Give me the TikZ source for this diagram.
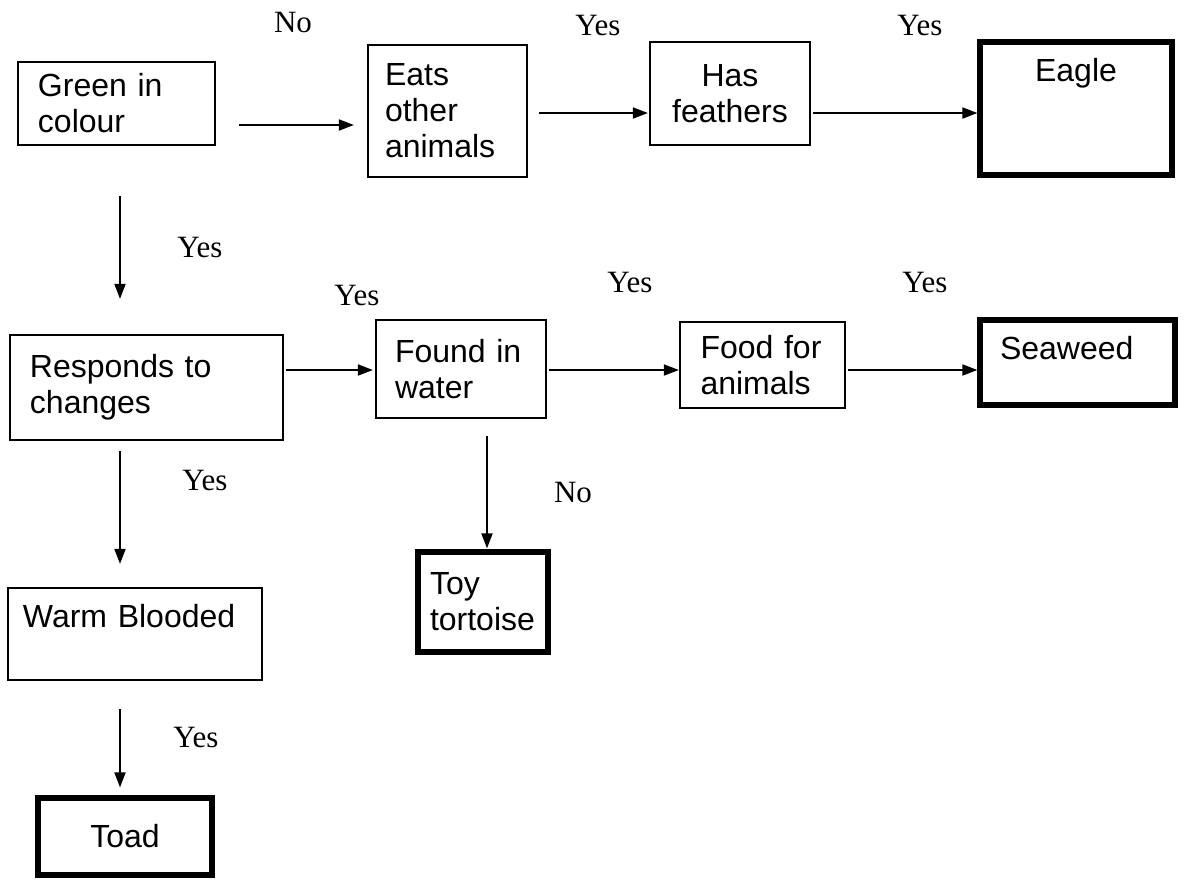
\documentclass[tikz,border=0pt]{standalone}
\usepackage{fontspec}
\setmainfont{Liberation Serif}
\newfontfamily\arialfont{Liberation Sans}
\usetikzlibrary{arrows.meta}

\tikzset{
  box/.style={draw, line width=1.1pt, inner sep=0pt, align=left,
    font=\arialfont\fontsize{16}{18}\selectfont},
  endbox/.style={box, line width=2.6pt},
  arr/.style={line width=0.9pt, -{Triangle[length=7.5pt,width=5.5pt]}},
  lbl/.style={font=\fontsize{15.5}{18}\selectfont}
}

\begin{document}
\begin{tikzpicture}[x=0.5pt, y=-0.5pt]
\useasboundingbox (0,0) rectangle (1191,880);

% Ligne du haut
\node[box, minimum width=98.5pt, minimum height=41.5pt, text width=78.5pt] (green) at (116.5,103.5) {Green in\\colour};
\node[box, minimum width=79.5pt, minimum height=66pt, text width=62.5pt] (eats) at (447.5,111) {Eats\\other\\animals};
\node[box, minimum width=80pt, minimum height=51.5pt, align=center] (feathers) at (730,93.5) {Has\\feathers};
\node[endbox, minimum width=96pt, minimum height=66.5pt, align=center] (eagle) at (1076,108.5) {Eagle\\[-3pt]\strut\\\strut};

% Ligne du milieu
\node[box, minimum width=136.5pt, minimum height=52.5pt, text width=116.5pt] (responds) at (146.5,387.5) {Responds to\\changes};
\node[box, minimum width=85pt, minimum height=49pt, text width=66pt] (water) at (461,369) {Found in\\water};
\node[box, minimum width=82.5pt, minimum height=43pt, text width=62pt] (food) at (762.5,365) {Food for\\animals};
\node[endbox, minimum width=97.5pt, minimum height=42.5pt, text width=77.5pt] (seaweed) at (1077.5,362.5) {Seaweed\\[-9pt]\strut};

% Ligne du bas
\node[endbox, minimum width=65pt, minimum height=50pt, text width=53pt] (toy) at (483,602) {Toy\\tortoise};
\node[box, minimum width=127pt, minimum height=46pt, text width=112pt] (warm) at (135,634) {Warm Blooded\\[-5pt]\strut};
\node[endbox, minimum width=87pt, minimum height=38.5pt, align=center] (toad) at (125,836.5) {Toad};

% Fleches horizontales
\draw[arr, shorten <=11.5pt, shorten >=6.5pt] ([yshift=-10.75pt]green.east) -- ([yshift=-7pt]eats.west);
\draw[arr, shorten <=5.5pt, shorten >=0.5pt] ([yshift=-1pt]eats.east) -- ([yshift=-9.75pt]feathers.west);
\draw[arr, shorten <=1pt] ([yshift=-9.75pt]feathers.east) -- ([yshift=-2.25pt]eagle.west);
\draw[arr, shorten <=1pt, shorten >=1pt] ([yshift=8.75pt]responds.east) -- ([yshift=-0.5pt]water.west);
\draw[arr, shorten <=1pt] ([yshift=-0.5pt]water.east) -- ([yshift=-2.5pt]food.west);
\draw[arr, shorten <=1pt] ([yshift=-2.5pt]food.east) -- ([yshift=-3.75pt]seaweed.west);

% Fleches verticales
\draw[arr, shorten <=25pt, shorten >=17.5pt] ([xshift=1.75pt]green.south) -- ([xshift=-13.25pt]responds.north);
\draw[arr, shorten <=5pt, shorten >=11.5pt] ([xshift=-13.25pt]responds.south) -- ([xshift=-7.5pt]warm.north);
\draw[arr, shorten <=14pt, shorten >=4pt] ([xshift=-7.5pt]warm.south) -- ([xshift=-2.5pt]toad.north);
\draw[arr, shorten <=8.5pt, shorten >=0.5pt] ([xshift=13pt]water.south) -- ([xshift=2pt]toy.north);

% Reponses
\node[lbl] (l1) at (293,22) {No};
\node[lbl] (l2) at (598,25) {Yes};
\node[lbl] (l3) at (920,25) {Yes};
\node[lbl] (l4) at (200,247) {Yes};
\node[lbl] (l5) at (357,295) {Yes};
\node[lbl] (l6) at (630,282) {Yes};
\node[lbl] (l7) at (925,282) {Yes};
\node[lbl] (l8) at (573,492) {No};
\node[lbl] (l9) at (205,480) {Yes};
\node[lbl] (l10) at (196,737) {Yes};

\end{tikzpicture}
\end{document}
